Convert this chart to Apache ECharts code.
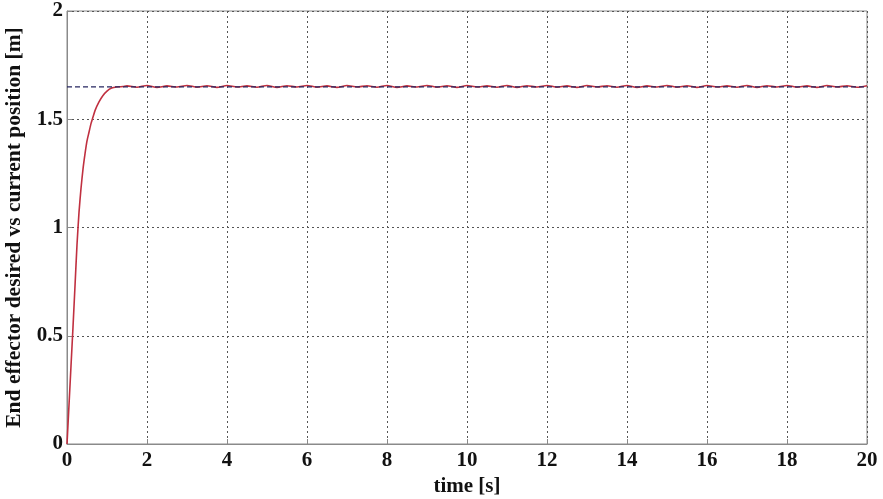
<!DOCTYPE html>
<html>
<head>
<meta charset="utf-8">
<script src="https://cdn.jsdelivr.net/npm/echarts@6/dist/echarts.min.js"></script>
<style>html,body{margin:0;padding:0;background:#fff;}#c{width:883px;height:499px;}</style>
</head>
<body>
<div id="c"></div>
<script>
// ---- data ----
var xTicks = [0, 2, 4, 6, 8, 10, 12, 14, 16, 18, 20];
var yTicks = [0, 0.5, 1, 1.5, 2];
var desiredPosition = 1.65;
var desiredTime = [0, 20];

var riseTime = [0, 0.05, 0.1, 0.15, 0.2, 0.25, 0.3, 0.35, 0.4, 0.45, 0.5, 0.55, 0.6, 0.65, 0.7, 0.8, 0.9, 1.0, 1.1, 1.2, 1.3, 1.4];
var risePos  = [0, 0.18, 0.36, 0.54, 0.73, 0.92, 1.07, 1.18, 1.27, 1.34, 1.40, 1.44, 1.48, 1.51, 1.54, 1.58, 1.61, 1.63, 1.643, 1.648, 1.65, 1.651];

var settleTime = [1.5,1.75,2,2.25,2.5,2.75,3,3.25,3.5,3.75,4,4.25,4.5,4.75,5,5.25,5.5,5.75,6,6.25,
  6.5,6.75,7,7.25,7.5,7.75,8,8.25,8.5,8.75,9,9.25,9.5,9.75,10,10.25,10.5,10.75,11,11.25,
  11.5,11.75,12,12.25,12.5,12.75,13,13.25,13.5,13.75,14,14.25,14.5,14.75,15,15.25,15.5,15.75,16,16.25,
  16.5,16.75,17,17.25,17.5,17.75,18,18.25,18.5,18.75,19,19.25,19.5,19.75,20];
var settlePos = [1.654,1.648,1.656,1.647,1.654,1.649,1.656,1.648,1.655,1.647,
  1.656,1.649,1.654,1.648,1.656,1.647,1.655,1.649,1.656,1.648,
  1.654,1.647,1.656,1.649,1.655,1.648,1.656,1.647,1.654,1.649,
  1.656,1.648,1.655,1.647,1.656,1.649,1.654,1.648,1.656,1.647,
  1.655,1.649,1.656,1.648,1.654,1.647,1.656,1.649,1.655,1.648,
  1.656,1.647,1.654,1.649,1.656,1.648,1.655,1.647,1.656,1.649,
  1.654,1.648,1.656,1.647,1.655,1.649,1.656,1.648,1.654,1.647,
  1.656,1.649,1.655,1.648,1.655];

var xLabel = 'time [s]';
var yLabel = 'End effector desired vs current position [m]';

// ---- build ----
var currentData = [];
riseTime.forEach(function(t, i){ currentData.push([t, risePos[i]]); });
settleTime.forEach(function(t, i){ currentData.push([t, settlePos[i]]); });
var desiredData = desiredTime.map(function(t){ return [t, desiredPosition]; });

var font = '"Liberation Serif", "DejaVu Serif", serif';
var chart = echarts.init(document.getElementById('c'), null, {renderer: 'canvas'});
chart.setOption({
  animation: false,
  backgroundColor: '#fff',
  grid: {left: 67, right: 16, top: 11, bottom: 55, outerBoundsMode: 'none', containLabel: false,
         show: true, borderColor: '#8a8a8a', borderWidth: 1, backgroundColor: 'transparent'},
  xAxis: {
    type: 'value', min: 0, max: 20, interval: 2,
    name: xLabel, nameLocation: 'middle', nameGap: 31,
    nameTextStyle: {fontFamily: font, fontWeight: 'bold', fontSize: 21, color: '#111'},
    axisLine: {show: true, lineStyle: {color: '#8a8a8a'}},
    axisTick: {show: true, inside: true, length: 5, lineStyle: {color: '#8a8a8a'}},
    axisLabel: {fontFamily: font, fontWeight: 'bold', fontSize: 21, color: '#111', margin: 6},
    splitLine: {show: true, lineStyle: {color: '#555', type: [2, 3], width: 1}}
  },
  yAxis: {
    type: 'value', min: 0, max: 2, interval: 0.5,
    name: yLabel, nameLocation: 'middle', nameGap: 38,
    nameTextStyle: {fontFamily: font, fontWeight: 'bold', fontSize: 21.5, color: '#111'},
    axisLine: {show: true, lineStyle: {color: '#8a8a8a'}},
    axisTick: {show: true, inside: true, length: 5, lineStyle: {color: '#8a8a8a'}},
    axisLabel: {fontFamily: font, fontWeight: 'bold', fontSize: 21, color: '#111', margin: 4},
    splitLine: {show: true, lineStyle: {color: '#555', type: [2, 3], width: 1}}
  },
  series: [
    {
      name: 'current', type: 'line', data: currentData, showSymbol: false, smooth: 0.2,
      lineStyle: {color: '#c03040', width: 1.6}, z: 2
    },
    {
      name: 'desired', type: 'line', data: desiredData, showSymbol: false,
      lineStyle: {color: '#262660', width: 1.3, type: [5, 3]}, z: 3
    }
  ]
});
</script>
</body>
</html>
